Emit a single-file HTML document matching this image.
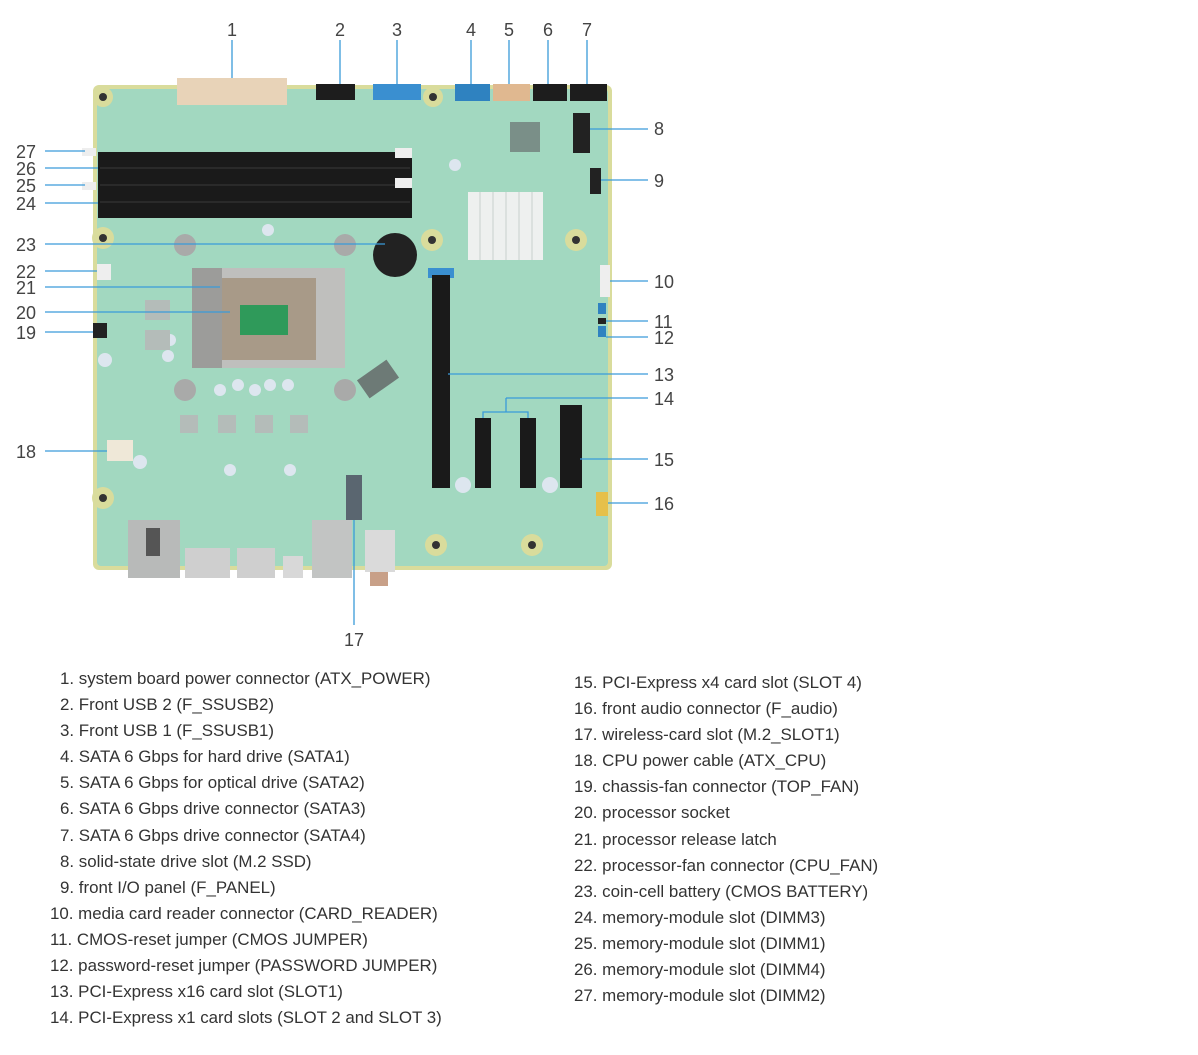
<!DOCTYPE html>
<html><head><meta charset="utf-8"><style>
body{margin:0;background:#fff;width:1198px;height:1055px;overflow:hidden;font-family:"Liberation Sans",Arial,sans-serif;}
.leg{position:absolute;font-size:16.9px;color:#333;line-height:26.1px;white-space:nowrap}
</style></head><body>
<svg width="1198" height="650" style="position:absolute;left:0;top:0" xmlns="http://www.w3.org/2000/svg">
<rect x="93" y="85" width="519" height="485" rx="6" fill="#d9dc9c"/>
<rect x="97" y="89" width="511" height="477" rx="4" fill="#a2d8c0"/>
<g fill="#d9dc9c">
<circle cx="103" cy="97" r="10"/><circle cx="433" cy="97" r="10"/><circle cx="103" cy="238" r="11"/><circle cx="432" cy="240" r="11"/><circle cx="576" cy="240" r="11"/><circle cx="103" cy="498" r="11"/><circle cx="436" cy="545" r="11"/><circle cx="532" cy="545" r="11"/>
</g>
<g fill="#333">
<circle cx="103" cy="97" r="4"/><circle cx="433" cy="97" r="4"/><circle cx="103" cy="238" r="4"/><circle cx="432" cy="240" r="4"/><circle cx="576" cy="240" r="4"/><circle cx="103" cy="498" r="4"/><circle cx="436" cy="545" r="4"/><circle cx="532" cy="545" r="4"/>
</g>
<g fill="#a9aaa9"><circle cx="185" cy="245" r="11"/><circle cx="345" cy="245" r="11"/><circle cx="185" cy="390" r="11"/><circle cx="345" cy="390" r="11"/></g>
<rect x="177" y="78" width="110" height="27" fill="#e8d3b8"/>
<rect x="316" y="84" width="39" height="16" fill="#1d1d1d"/>
<rect x="373" y="84" width="48" height="16" fill="#3a8fd0"/>
<rect x="455" y="84" width="35" height="17" fill="#2f82c0"/>
<rect x="493" y="84" width="37" height="17" fill="#e0b890"/>
<rect x="533" y="84" width="34" height="17" fill="#1d1d1d"/>
<rect x="570" y="84" width="37" height="17" fill="#1d1d1d"/>
<rect x="573" y="113" width="17" height="40" fill="#222"/>
<rect x="590" y="168" width="11" height="26" fill="#222"/>
<rect x="510" y="122" width="30" height="30" fill="#7a8f88"/>
<rect x="98" y="152" width="314" height="66" fill="#1a1a1a"/>
<g stroke="#3a3a3a"><line x1="100" y1="168" x2="410" y2="168"/><line x1="100" y1="185" x2="410" y2="185"/><line x1="100" y1="202" x2="410" y2="202"/></g>
<rect x="395" y="148" width="17" height="10" fill="#eee"/><rect x="395" y="178" width="17" height="10" fill="#eee"/>
<rect x="82" y="148" width="14" height="8" fill="#eee"/><rect x="82" y="182" width="14" height="8" fill="#eee"/>
<rect x="468" y="192" width="75" height="68" fill="#eef0ef"/>
<g stroke="#c8cfcc"><line x1="480" y1="192" x2="480" y2="260"/><line x1="493" y1="192" x2="493" y2="260"/><line x1="506" y1="192" x2="506" y2="260"/><line x1="519" y1="192" x2="519" y2="260"/><line x1="532" y1="192" x2="532" y2="260"/></g>
<circle cx="395" cy="255" r="22" fill="#222"/>
<rect x="192" y="268" width="153" height="100" fill="#bfbfbd"/>
<rect x="216" y="278" width="100" height="82" fill="#a89a88"/>
<rect x="240" y="305" width="48" height="30" fill="#2f9a5a"/>
<rect x="192" y="268" width="30" height="100" fill="#9c9c9a"/>
<g fill="#dde6ef"><circle cx="170" cy="340" r="6"/><circle cx="168" cy="356" r="6"/><circle cx="105" cy="360" r="7"/><circle cx="220" cy="390" r="6"/><circle cx="238" cy="385" r="6"/><circle cx="255" cy="390" r="6"/><circle cx="270" cy="385" r="6"/><circle cx="288" cy="385" r="6"/><circle cx="140" cy="462" r="7"/><circle cx="230" cy="470" r="6"/><circle cx="290" cy="470" r="6"/><circle cx="463" cy="485" r="8"/><circle cx="550" cy="485" r="8"/><circle cx="268" cy="230" r="6"/><circle cx="455" cy="165" r="6"/></g>
<g fill="#b4bcb9"><rect x="180" y="415" width="18" height="18"/><rect x="218" y="415" width="18" height="18"/><rect x="255" y="415" width="18" height="18"/><rect x="290" y="415" width="18" height="18"/><rect x="145" y="300" width="25" height="20"/><rect x="145" y="330" width="25" height="20"/></g>
<rect x="360" y="368" width="36" height="22" fill="#6d7a76" transform="rotate(-35 378 379)"/>
<rect x="428" y="268" width="26" height="10" fill="#3a8fd0"/>
<rect x="432" y="275" width="18" height="213" fill="#1a1a1a"/>
<rect x="475" y="418" width="16" height="70" fill="#1a1a1a"/>
<rect x="520" y="418" width="16" height="70" fill="#1a1a1a"/>
<rect x="560" y="405" width="22" height="83" fill="#1a1a1a"/>
<rect x="600" y="265" width="10" height="32" fill="#eee"/>
<rect x="598" y="303" width="8" height="11" fill="#2f82c0"/>
<rect x="598" y="318" width="8" height="6" fill="#222"/>
<rect x="598" y="326" width="8" height="11" fill="#2f82c0"/>
<rect x="596" y="492" width="12" height="24" fill="#e6c04a"/>
<rect x="97" y="264" width="14" height="16" fill="#eee"/>
<rect x="93" y="323" width="14" height="15" fill="#222"/>
<rect x="107" y="440" width="26" height="21" fill="#efe8d8"/>
<rect x="346" y="475" width="16" height="45" fill="#5a6670"/>
<rect x="128" y="520" width="52" height="58" fill="#b8bab9"/><rect x="146" y="528" width="14" height="28" fill="#555"/>
<rect x="185" y="548" width="45" height="30" fill="#cfcfcf"/><rect x="237" y="548" width="38" height="30" fill="#cfcfcf"/><rect x="283" y="556" width="20" height="22" fill="#d8d8d8"/>
<rect x="312" y="520" width="40" height="58" fill="#c2c4c3"/><rect x="365" y="530" width="30" height="42" fill="#dadada"/><rect x="370" y="572" width="18" height="14" fill="#c8a088"/>
<g stroke="#3a9ad9" stroke-width="1.3">
<line x1="232" y1="40" x2="232" y2="78"/><line x1="340" y1="40" x2="340" y2="84"/><line x1="397" y1="40" x2="397" y2="84"/><line x1="471" y1="40" x2="471" y2="84"/><line x1="509" y1="40" x2="509" y2="84"/><line x1="548" y1="40" x2="548" y2="84"/><line x1="587" y1="40" x2="587" y2="84"/>
<line x1="590" y1="129" x2="648" y2="129"/><line x1="601" y1="180" x2="648" y2="180"/><line x1="610" y1="281" x2="648" y2="281"/><line x1="606" y1="321" x2="648" y2="321"/><line x1="606" y1="337" x2="648" y2="337"/><line x1="448" y1="374" x2="648" y2="374"/><line x1="506" y1="398" x2="648" y2="398"/>
<polyline points="483,418 483,412 528,412 528,418" fill="none"/><line x1="506" y1="398" x2="506" y2="412"/>
<line x1="580" y1="459" x2="648" y2="459"/><line x1="608" y1="503" x2="648" y2="503"/>
<line x1="354" y1="520" x2="354" y2="625"/>
<line x1="45" y1="151" x2="85" y2="151"/><line x1="45" y1="168" x2="98" y2="168"/><line x1="45" y1="185" x2="85" y2="185"/><line x1="45" y1="203" x2="98" y2="203"/><line x1="45" y1="244" x2="385" y2="244"/><line x1="45" y1="271" x2="97" y2="271"/><line x1="45" y1="287" x2="220" y2="287"/><line x1="45" y1="312" x2="230" y2="312"/><line x1="45" y1="332" x2="93" y2="332"/><line x1="45" y1="451" x2="107" y2="451"/>
</g>
<g font-family="Liberation Sans, Arial, sans-serif" font-size="18" fill="#444" text-anchor="middle">
<text x="232" y="36">1</text><text x="340" y="36">2</text><text x="397" y="36">3</text><text x="471" y="36">4</text><text x="509" y="36">5</text><text x="548" y="36">6</text><text x="587" y="36">7</text>
<text x="354" y="646">17</text>
</g>
<g font-family="Liberation Sans, Arial, sans-serif" font-size="18" fill="#444">
<text x="654" y="135">8</text><text x="654" y="187">9</text><text x="654" y="288">10</text><text x="654" y="328">11</text><text x="654" y="344">12</text><text x="654" y="381">13</text><text x="654" y="405">14</text><text x="654" y="466">15</text><text x="654" y="510">16</text>
<text x="16" y="158">27</text><text x="16" y="175">26</text><text x="16" y="192">25</text><text x="16" y="210">24</text><text x="16" y="251">23</text><text x="16" y="278">22</text><text x="16" y="294">21</text><text x="16" y="319">20</text><text x="16" y="339">19</text><text x="16" y="458">18</text>
</g>
</svg>
<div class="leg" style="left:60px;top:666px">1. system board power connector (ATX_POWER)<br>2. Front USB 2 (F_SSUSB2)<br>3. Front USB 1 (F_SSUSB1)<br>4. SATA 6 Gbps for hard drive (SATA1)<br>5. SATA 6 Gbps for optical drive (SATA2)<br>6. SATA 6 Gbps drive connector (SATA3)<br>7. SATA 6 Gbps drive connector (SATA4)<br>8. solid-state drive slot (M.2 SSD)<br>9. front I/O panel (F_PANEL)</div>
<div class="leg" style="left:50px;top:901px">10. media card reader connector (CARD_READER)<br>11. CMOS-reset jumper (CMOS JUMPER)<br>12. password-reset jumper (PASSWORD JUMPER)<br>13. PCI-Express x16 card slot (SLOT1)<br>14. PCI-Express x1 card slots (SLOT 2 and SLOT 3)</div>
<div class="leg" style="left:574px;top:670px">15. PCI-Express x4 card slot (SLOT 4)<br>16. front audio connector (F_audio)<br>17. wireless-card slot (M.2_SLOT1)<br>18. CPU power cable (ATX_CPU)<br>19. chassis-fan connector (TOP_FAN)<br>20. processor socket<br>21. processor release latch<br>22. processor-fan connector (CPU_FAN)<br>23. coin-cell battery (CMOS BATTERY)<br>24. memory-module slot (DIMM3)<br>25. memory-module slot (DIMM1)<br>26. memory-module slot (DIMM4)<br>27. memory-module slot (DIMM2)</div>
</body></html>
